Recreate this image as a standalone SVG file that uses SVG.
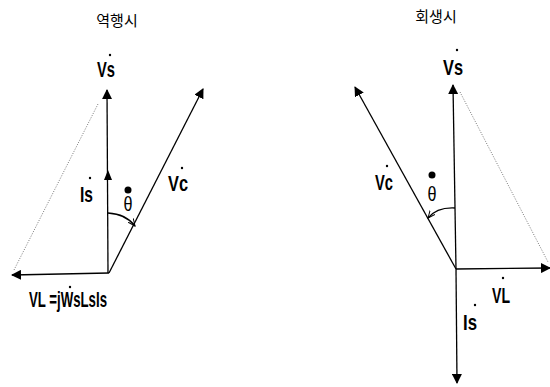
<svg xmlns="http://www.w3.org/2000/svg" width="550" height="387" viewBox="0 0 550 387">
<defs>
<style>
.ln{stroke:#000;stroke-width:1.3;fill:none}
.dot{stroke:#555;stroke-width:0.8;stroke-dasharray:1 1.5;fill:none}
.ah{fill:#000}
.t{font-family:"Liberation Sans",Arial,sans-serif;font-size:22px;font-weight:bold;fill:#000}
.k{font-family:"Noto Sans CJK KR","Noto Sans",sans-serif;font-size:15px;fill:#000}
.th{font-family:"Liberation Sans",Arial,sans-serif;font-size:21px;fill:#000}
</style>
<marker id="tri" viewBox="0 0 10 10" refX="9" refY="5" markerWidth="10" markerHeight="10" markerUnits="userSpaceOnUse" orient="auto">
<path d="M0,0 L10,5 L0,10 Z" fill="#000"/>
</marker>
<marker id="open" viewBox="0 0 10 10" refX="9" refY="5" markerWidth="8" markerHeight="8" markerUnits="userSpaceOnUse" orient="auto">
<path d="M0,1 L9,5 L0,9" fill="none" stroke="#000" stroke-width="1.2"/>
</marker>
</defs>
<rect width="550" height="387" fill="#fff"/>

<text class="k" x="117" y="26" text-anchor="middle">역행시</text>
<text class="k" x="436" y="22" text-anchor="middle">회생시</text>

<g id="connectors">
<!-- left -->
<line class="ln" x1="108" y1="273" x2="107" y2="90" marker-end="url(#tri)"/>
<polygon class="ah" points="108,170 104,180 112,180"/>
<line class="ln" x1="109" y1="273" x2="203" y2="89" marker-end="url(#tri)"/>
<line class="ln" x1="109" y1="273" x2="12" y2="275" marker-end="url(#tri)"/>
<line class="dot" x1="14" y1="270" x2="98" y2="104"/>
<path class="ln" stroke-width="1" d="M108,213 Q126,214 135,226" marker-end="url(#open)"/>
<!-- right -->
<line class="ln" x1="456" y1="269" x2="453" y2="85" marker-end="url(#tri)"/>
<line class="ln" x1="456" y1="269" x2="355" y2="87" marker-end="url(#tri)"/>
<line class="ln" x1="456" y1="269" x2="550" y2="268" marker-end="url(#tri)"/>
<line class="ln" x1="456" y1="269" x2="457" y2="383" marker-end="url(#tri)"/>
<line class="dot" x1="460" y1="92" x2="548" y2="262"/>
<path class="ln" stroke-width="1" d="M455,208 Q437,207 428,218" marker-end="url(#open)"/>
</g>

<g id="left-Vs">
<text class="t" x="97" y="77" textLength="18" lengthAdjust="spacingAndGlyphs">Vs</text>
<circle cx="110" cy="55" r="1.2"/>
</g>
<g id="left-Is">
<text class="t" x="80" y="202" textLength="13" lengthAdjust="spacingAndGlyphs">Is</text>
<circle cx="90" cy="178" r="1.2"/>
</g>
<g id="left-Vc">
<text class="t" x="168" y="191" textLength="20" lengthAdjust="spacingAndGlyphs">Vc</text>
<circle cx="182" cy="168" r="1.2"/>
</g>
<g id="left-theta">
<circle cx="128" cy="190" r="3.5"/>
<text class="th" x="128" y="211" text-anchor="middle" textLength="9" lengthAdjust="spacingAndGlyphs">θ</text>
</g>
<g id="left-VL">
<text class="t" x="29" y="307" font-size="19" textLength="78" lengthAdjust="spacingAndGlyphs">VL =jWsLsIs</text>
<circle cx="70" cy="287" r="1.2"/>
</g>

<g id="right-Vs">
<text class="t" x="443" y="75" textLength="20" lengthAdjust="spacingAndGlyphs">Vs</text>
<circle cx="457" cy="50" r="1.2"/>
</g>
<g id="right-Vc">
<text class="t" x="375" y="190" textLength="18" lengthAdjust="spacingAndGlyphs">Vc</text>
<circle cx="387" cy="166" r="1.2"/>
</g>
<g id="right-theta">
<circle cx="432" cy="175" r="3.5"/>
<text class="th" x="432" y="201" text-anchor="middle" textLength="9" lengthAdjust="spacingAndGlyphs">θ</text>
</g>
<g id="right-VL">
<text class="t" x="492" y="303" textLength="18" lengthAdjust="spacingAndGlyphs">VL</text>
<circle cx="503" cy="278" r="1.2"/>
</g>
<g id="right-Is">
<text class="t" x="463" y="330" textLength="14" lengthAdjust="spacingAndGlyphs">Is</text>
<circle cx="475" cy="305" r="1.2"/>
</g>
</svg>
